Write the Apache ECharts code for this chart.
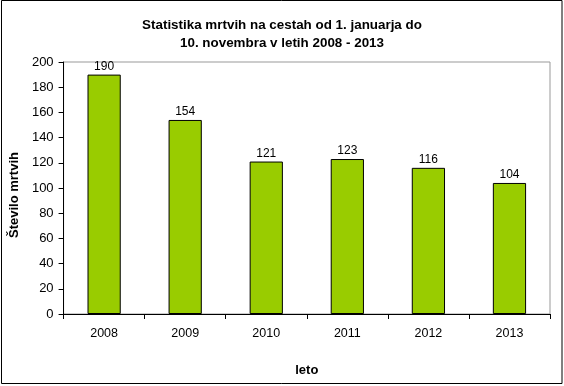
<!DOCTYPE html>
<html><head><meta charset="utf-8">
<script src="https://cdn.jsdelivr.net/npm/echarts@6/dist/echarts.min.js"></script>
<style>html,body{margin:0;padding:0;background:#fff}#c{width:564px;height:386px}</style>
</head><body><div id="c"></div>
<script>
const titleLines = ["Statistika mrtvih na cestah od 1. januarja do", "10. novembra v letih 2008 - 2013"];
const categories = ["2008", "2009", "2010", "2011", "2012", "2013"];
const deaths = [190, 154, 121, 123, 116, 104];
const yTicks = {min: 0, max: 200, interval: 20};
const yName = "Število mrtvih";
const xName = "leto";

const chart = echarts.init(document.getElementById('c'), null, {renderer: 'canvas'});
const font = "'Liberation Sans', Arial, sans-serif";
chart.setOption({
  backgroundColor: '#fff',
  animation: false,
  textStyle: {fontFamily: font},
  graphic: [{
    type: 'rect', shape: {x: 1.5, y: 0.5, width: 560.5, height: 383},
    style: {fill: 'none', stroke: '#000', lineWidth: 1}, silent: true, z: 100
  }],
  title: {
    text: titleLines.join('\n'), left: 'center', top: 11,
    textStyle: {fontFamily: font, fontSize: 13.4, fontWeight: 'bold', color: '#000', lineHeight: 18}
  },
  grid: {left: 63, right: 14, top: 62, bottom: 72, show: true, borderColor: '#999', borderWidth: 1, backgroundColor: '#fff'},
  xAxis: {
    type: 'category', data: categories,
    name: xName, nameLocation: 'middle', nameGap: 50,
    nameTextStyle: {fontFamily: font, fontSize: 13, fontWeight: 'bold', color: '#000'},
    axisLine: {lineStyle: {color: '#000'}},
    axisTick: {show: true, alignWithLabel: false, length: 5, lineStyle: {color: '#000'}},
    axisLabel: {fontFamily: font, fontSize: 12.5, color: '#000', margin: 13}
  },
  yAxis: {
    type: 'value', min: yTicks.min, max: yTicks.max, interval: yTicks.interval,
    name: yName, nameLocation: 'middle', nameGap: 38, nameRotate: 90,
    nameTextStyle: {fontFamily: font, fontSize: 13, fontWeight: 'bold', color: '#000', padding: [0, 14, 0, 0]},
    axisLine: {show: true, lineStyle: {color: '#000'}},
    axisTick: {show: true, length: 5, lineStyle: {color: '#000'}},
    axisLabel: {fontFamily: font, fontSize: 13, color: '#000', margin: 10},
    splitLine: {show: false}
  },
  series: [{
    type: 'bar', data: deaths, barWidth: '41%',
    itemStyle: {color: '#99cc00', borderColor: '#000', borderWidth: 1},
    label: {show: true, position: 'top', distance: 2, fontFamily: font, fontSize: 12, color: '#000'}
  }]
});
</script></body></html>
